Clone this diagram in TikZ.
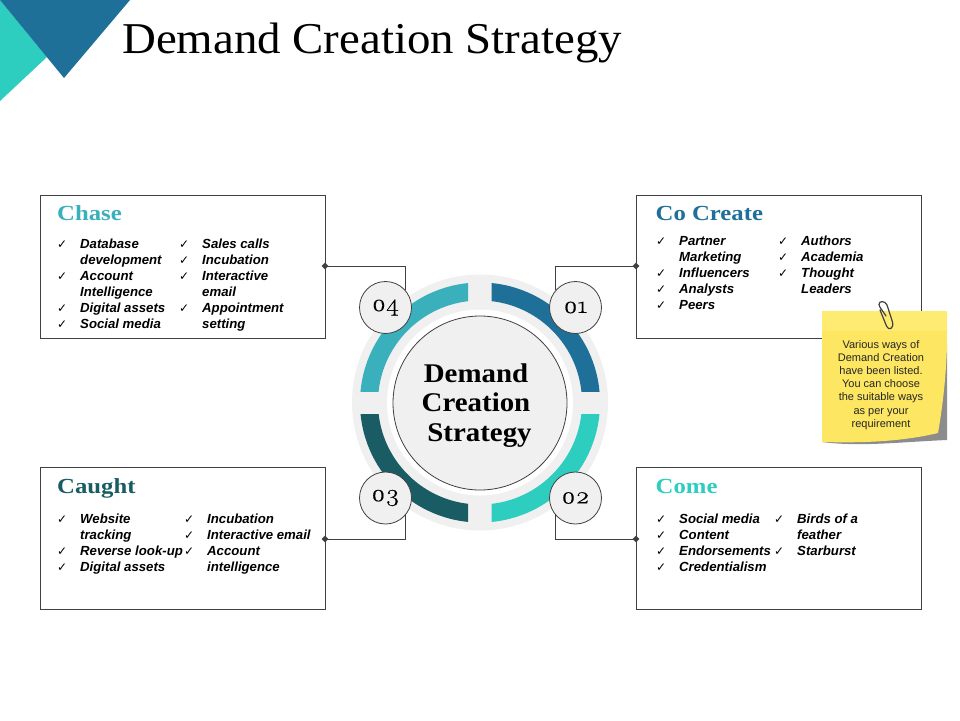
\documentclass[tikz,border=0pt]{standalone}
\usepackage{fontspec}
\usetikzlibrary{shapes.geometric}
\setmainfont{Liberation Serif}
\setsansfont{Liberation Sans}
\newfontfamily\ckfont{DejaVu Sans}
\newfontfamily\numfont[Numbers=OldStyle,FakeStretch=1.12,FakeBold=0.5]{Latin Modern Roman}
\newfontfamily\titlefont[FakeStretch=1.065]{Liberation Serif}
\newfontfamily\headfont[FakeStretch=1.15]{Liberation Serif}
\newfontfamily\hubfont[FakeStretch=1.07]{Liberation Serif}
\definecolor{cdark}{HTML}{1F7099}
\definecolor{cteal}{HTML}{2DCDBF}
\definecolor{cmid}{HTML}{3AB0BC}
\definecolor{cdeep}{HTML}{1A5C63}
\definecolor{cpale}{HTML}{F1F0F0}
\definecolor{cline}{HTML}{404040}
\definecolor{cnote}{HTML}{FDE661}
\definecolor{cnotetop}{HTML}{FEEB72}
\newcommand\ck{\makebox[0pt][r]{\ckfont\fontsize{12}{12}\selectfont ✓\hspace{13pt}}\strut}
\newcommand\nk{\strut}
\tikzset{
  x=1pt,y=-1pt,
  card/.style={draw=cline,line width=0.8pt,fill=white,minimum width=285pt,inner sep=0pt,anchor=north west},
  head/.style={anchor=base west,inner sep=0pt,font=\headfont\fontsize{21.5}{24}\selectfont\bfseries},
  items/.style={anchor=north west,inner sep=0pt,align=left,font=\sffamily\bfseries\itshape\fontsize{13.2}{16}\selectfont},
  num/.style={circle,draw=cline,line width=0.8pt,fill=cpale,minimum size=52pt,inner sep=0pt,font=\numfont\fontsize{24}{26}\selectfont},
  conn/.style={draw=cline,line width=0.8pt},
  dot/.style={diamond,fill=cline,minimum size=7pt,inner sep=0pt},
}
\newcommand\quadring[5]{\begin{scope}\clip (#2,#3) rectangle (#4,#5);
  \fill[#1,even odd rule] (480,402.5) circle[radius=120pt] (480,402.5) circle[radius=102pt];\end{scope}}
\begin{document}
\begin{tikzpicture}
\useasboundingbox (0,0) rectangle (960,720);
% corner
\fill[cteal] (0,0) -- (47,57) -- (0,101) -- cycle;
\fill[cdark] (0,0) -- (130,0) -- (64,78) -- cycle;
\node[anchor=base west,inner sep=0pt,font=\titlefont\fontsize{44}{46}\selectfont] (title) at (122,53) {Demand Creation Strategy};
% cards
\node[card,minimum height=143pt] (chase) at (40,195) {};
\node[card,minimum height=143pt] (cocreate) at (636,195) {};
\node[card,minimum height=142pt] (caught) at (40,467) {};
\node[card,minimum height=142pt] (come) at (636,467) {};
% ring
\fill[cpale] (480,402.5) circle[radius=128pt];
\quadring{cdark}{491.5}{391}{610}{270}
\quadring{cteal}{491.5}{414}{610}{530}
\quadring{cdeep}{468}{414}{350}{530}
\quadring{cmid}{468}{391}{350}{270}
\fill[white] (480,402.5) circle[radius=93pt];
\node[circle,draw=cline,line width=0.8pt,fill=cpale,minimum size=174pt,inner sep=0pt] (hub) at (480,403) {};
\node[inner sep=0pt,align=center,font=\hubfont\fontsize{27}{29.5}\selectfont\bfseries] (hubtext) at (479,405.5) {\hspace*{-6pt}Demand\\\hspace*{-6pt}Creation\\\hspace*{1pt}Strategy};
% number circles
\node[num] (n4) at (385.5,307.5) {04};
\node[num] (n1) at (575.5,307.5) {01};
\node[num] (n3) at (385.5,498) {03};
\node[num] (n2) at (575.5,498) {02};
% connectors
\node[dot] (d4) at (325,266) {};
\node[dot] (d1) at (636,266) {};
\node[dot] (d3) at (325,539) {};
\node[dot] (d2) at (636,539) {};
\draw[conn] (d4.center) -| (n4.41);
\draw[conn] (d1.center) -| (n1.139);
\draw[conn] (d3.center) -| (n3.-41);
\draw[conn] (d2.center) -| (n2.-139);
% headings
\node[head,text=cmid] (h4) at (57,220) {Chase};
\node[head,text=cdark] (h1) at (655.5,220) {Co Create};
\node[head,text=cdeep] (h3) at (57,493) {Caught};
\node[head,text=cteal] (h2) at (655.5,493) {Come};
% items
\node[items] (a1) at (80,236.7) {\ck Database\\\nk development\\\ck Account\\\nk Intelligence\\\ck Digital assets\\\ck Social media};
\node[items] (a2) at (202,236.7) {\ck Sales calls\\\ck Incubation\\\ck Interactive\\\nk email\\\ck Appointment\\\nk setting};
\node[items] (b1) at (679,233.7) {\ck Partner\\\nk Marketing\\\ck Influencers\\\ck Analysts\\\ck Peers};
\node[items] (b2) at (801,233.7) {\ck Authors\\\ck Academia\\\ck Thought\\\nk Leaders};
\node[items] (c1) at (80,511.7) {\ck Website\\\nk tracking\\\ck Reverse look-up\\\ck Digital assets};
\node[items] (c2) at (207,511.7) {\ck Incubation\\\ck Interactive email\\\ck Account\\\nk intelligence};
\node[items] (e1) at (679,511.7) {\ck Social media\\\ck Content\\\ck Endorsements\\\ck Credentialism};
\node[items] (e2) at (797,511.7) {\ck Birds of a\\\nk feather\\\ck Starburst};
% sticky note
\fill[black!45] (947,345) -- (947,440) .. controls (900,442) and (860,447) .. (822,442) -- cycle;
\fill[cnote] (822,311) -- (947,311) -- (947,345) .. controls (946,380) and (942,410) .. (938,433) .. controls (900,442) and (860,443) .. (822,442) -- cycle;
\fill[cnotetop] (822,311) rectangle (947,331);
\node[inner sep=0pt,align=center,text=black!85,font=\sffamily\fontsize{11}{13.1}\selectfont] (note) at (881,385)
 {Various ways of\\Demand Creation\\have been listed.\\You can choose\\the suitable ways\\as per your\\requirement};
% paper clip
\draw[cline,line width=1.2pt,line cap=round,line join=round,fill=none]
 (886,316) .. controls (883,311) and (879,307) .. (879,304.5)
 .. controls (879,300.5) and (885,300.5) .. (887,305)
 -- (892.5,322)
 .. controls (894,329) and (888.5,331) .. (886.5,326)
 -- (880,310);
\end{tikzpicture}
\end{document}
